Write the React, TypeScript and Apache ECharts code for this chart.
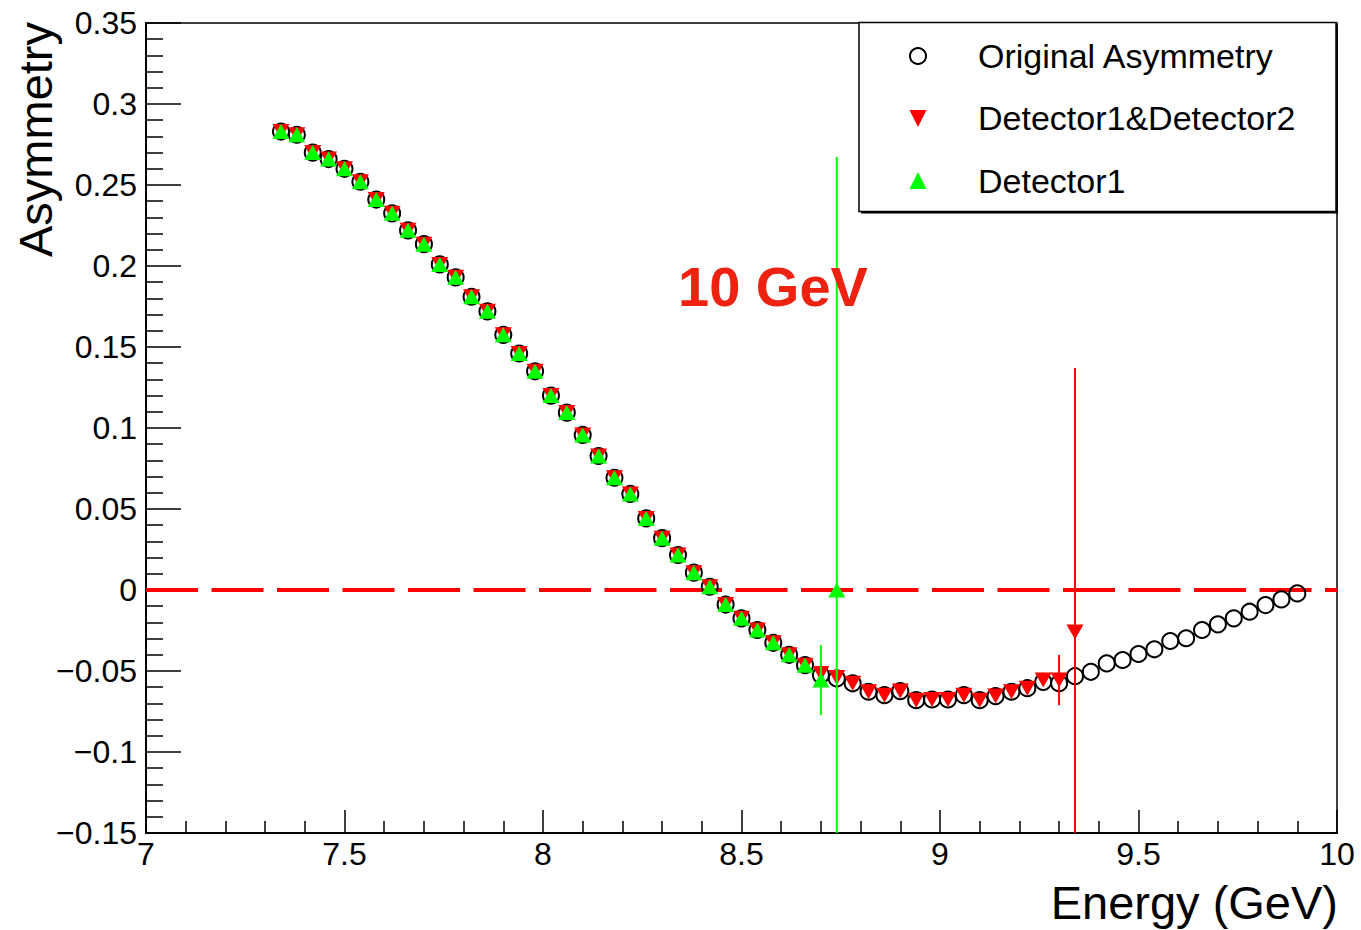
import React, { useEffect, useRef } from "react";
import * as echarts from "echarts";

// ---- data ----
const X_MIN = 7;
const X_MAX = 10;
const X_INTERVAL = 0.5;
const Y_MIN = -0.15;
const Y_MAX = 0.35;
const Y_INTERVAL = 0.05;

const energy = [
  7.34, 7.38, 7.42, 7.46, 7.5, 7.54, 7.58, 7.62, 7.66, 7.7, 7.74, 7.78, 7.82,
  7.86, 7.9, 7.94, 7.98, 8.02, 8.06, 8.1, 8.14, 8.18, 8.22, 8.26, 8.3, 8.34,
  8.38, 8.42, 8.46, 8.5, 8.54, 8.58, 8.62, 8.66, 8.7, 8.74, 8.78, 8.82, 8.86,
  8.9, 8.94, 8.98, 9.02, 9.06, 9.1, 9.14, 9.18, 9.22, 9.26, 9.3, 9.34, 9.38,
  9.42, 9.46, 9.5, 9.54, 9.58, 9.62, 9.66, 9.7, 9.74, 9.78, 9.82, 9.86, 9.9,
];

const originalAsym = [
  0.283, 0.281, 0.27, 0.266, 0.26, 0.252, 0.241, 0.2325, 0.222, 0.2135, 0.201,
  0.193, 0.181, 0.172, 0.1575, 0.146, 0.135, 0.12, 0.1095, 0.0957, 0.0827,
  0.0693, 0.0593, 0.0442, 0.032, 0.0216, 0.0107, 0.002, -0.009, -0.0175,
  -0.0247, -0.0326, -0.04, -0.0464, -0.0525, -0.0546, -0.0576, -0.0628,
  -0.0649, -0.0624, -0.068, -0.0676, -0.0676, -0.0649, -0.068, -0.0655,
  -0.0628, -0.0606, -0.0567, -0.0576, -0.0532, -0.0505, -0.0453, -0.0432,
  -0.0395, -0.0366, -0.0315, -0.0298, -0.0247, -0.0212, -0.0175, -0.0134,
  -0.0093, -0.0058, -0.0021,
];

// Detector1&Detector2 : 7.34 .. 9.34
const det12Asym = [
  0.283, 0.281, 0.27, 0.266, 0.26, 0.252, 0.241, 0.2325, 0.222, 0.2135, 0.201,
  0.193, 0.181, 0.172, 0.1575, 0.146, 0.135, 0.12, 0.1095, 0.0957, 0.0827,
  0.0693, 0.0593, 0.0442, 0.032, 0.0216, 0.0107, 0.002, -0.009, -0.0175,
  -0.0247, -0.0326, -0.04, -0.0464, -0.0515, -0.054, -0.0576, -0.0628,
  -0.0649, -0.0624, -0.068, -0.0676, -0.0676, -0.0649, -0.068, -0.0655,
  -0.0628, -0.0606, -0.0555, -0.0556, -0.026,
];

// Detector1 : 7.34 .. 8.74
const det1Asym = [
  0.283, 0.281, 0.27, 0.266, 0.26, 0.252, 0.241, 0.2325, 0.222, 0.2135, 0.201,
  0.193, 0.181, 0.172, 0.1575, 0.146, 0.135, 0.12, 0.1095, 0.0957, 0.0827,
  0.0693, 0.0593, 0.0442, 0.032, 0.0216, 0.0107, 0.002, -0.009, -0.0175,
  -0.0247, -0.0326, -0.04, -0.0464, -0.0556, 0.0,
];

// visible error bars (others are hidden under the markers)
const det12ErrEnergy = [9.3, 9.34];
const det12ErrSize = [0.0155, 0.163];
const det1ErrEnergy = [8.7, 8.74];
const det1ErrSize = [0.0216, 0.2673];

const zeroLine = [
  [X_MIN, 0],
  [X_MAX, 0],
];

const legendLabels = ["Original Asymmetry", "Detector1&Detector2", "Detector1"];
const xAxisTitle = "Energy (GeV)";
const yAxisTitle = "Asymmetry";
const annotation = "10 GeV";

const FONT = "'Liberation Sans', Arial, Helvetica, sans-serif";
const RED = "#ff0000";
const GREEN = "#00ff00";

function pairs(xs: number[], ys: number[]) {
  return ys.map((y, i) => [xs[i], y]);
}

function errData(ex: number[], es: number[], ys: number[]) {
  return ex.map((x, k) => {
    const i = energy.indexOf(x);
    return [x, ys[i], es[k]];
  });
}

function errorBarSeries(data: number[][], color: string, z: number) {
  return {
    type: "custom",
    z,
    silent: true,
    data,
    renderItem: (params: any, api: any) => {
      const x = api.value(0);
      const y = api.value(1);
      const e = api.value(2);
      const hi = Math.min(y + e, Y_MAX);
      const lo = Math.max(y - e, Y_MIN);
      const p1 = api.coord([x, hi]);
      const p2 = api.coord([x, lo]);
      return {
        type: "line",
        shape: { x1: p1[0], y1: p1[1], x2: p2[0], y2: p2[1] },
        style: { stroke: color, lineWidth: 2 },
      };
    },
  };
}

function fmtY(v: number) {
  const r = Math.round(v * 100) / 100;
  if (r < 0) return "\u2212" + String(-r);
  return String(r);
}

export default function App() {
  const ref = useRef<HTMLDivElement>(null);

  useEffect(() => {
    if (!ref.current) return;
    const chart = echarts.init(ref.current, undefined, { renderer: "svg" });

    const gridLeft = 146;
    const gridTop = 23;
    const gridW = 1191;
    const gridH = 810;

    const legX = 859;
    const legY = 22.5;
    const legW = 477;
    const legH = 189;
    const rowY = [56, 118, 181];
    const iconX = 918;
    const textX = 978;

    chart.setOption({
      animation: false,
      backgroundColor: "#ffffff",
      grid: {
        left: gridLeft,
        top: gridTop,
        width: gridW,
        height: gridH,
        show: true,
        borderColor: "#000",
        borderWidth: 1.5,
        backgroundColor: "transparent",
      },
      xAxis: {
        type: "value",
        min: X_MIN,
        max: X_MAX,
        interval: X_INTERVAL,
        axisLine: { show: true, onZero: false, lineStyle: { color: "#000", width: 2 } },
        axisTick: { show: true, inside: true, length: 23, lineStyle: { color: "#000", width: 1.5 } },
        minorTick: { show: true, splitNumber: 5, length: 12, lineStyle: { color: "#000", width: 1.5 } },
        splitLine: { show: false },
        minorSplitLine: { show: false },
        axisLabel: {
          color: "#000",
          fontSize: 32,
          fontFamily: FONT,
          margin: 5,
          showMinLabel: true,
          showMaxLabel: true,
          formatter: (v: number) => String(Math.round(v * 10) / 10),
        },
      },
      yAxis: {
        type: "value",
        min: Y_MIN,
        max: Y_MAX,
        interval: Y_INTERVAL,
        axisLine: { show: true, onZero: false, lineStyle: { color: "#000", width: 2 } },
        axisTick: { show: true, inside: true, length: 35, lineStyle: { color: "#000", width: 1.5 } },
        minorTick: { show: true, splitNumber: 5, length: 17, lineStyle: { color: "#000", width: 1.5 } },
        splitLine: { show: false },
        minorSplitLine: { show: false },
        axisLabel: {
          color: "#000",
          fontSize: 32,
          fontFamily: FONT,
          margin: 9,
          showMinLabel: true,
          showMaxLabel: true,
          formatter: fmtY,
        },
      },
      series: [
        {
          name: "zero",
          type: "line",
          z: 1,
          silent: true,
          symbol: "none",
          data: zeroLine,
          lineStyle: { color: RED, width: 4, type: [52, 13.5] },
        },
        {
          name: legendLabels[0],
          type: "scatter",
          z: 2,
          symbol: "circle",
          symbolSize: 16,
          data: pairs(energy, originalAsym),
          itemStyle: { color: "rgba(0,0,0,0)", borderColor: "#000", borderWidth: 2, opacity: 1 },
        },
        errorBarSeries(errData(det12ErrEnergy, det12ErrSize, det12Asym), RED, 3),
        {
          name: legendLabels[1],
          type: "scatter",
          z: 4,
          symbol: "triangle",
          symbolRotate: 180,
          symbolSize: [17, 15],
          data: pairs(energy, det12Asym),
          itemStyle: { color: RED, opacity: 1 },
        },
        errorBarSeries(errData(det1ErrEnergy, det1ErrSize, det1Asym), GREEN, 5),
        {
          name: legendLabels[2],
          type: "scatter",
          z: 6,
          symbol: "triangle",
          symbolSize: [17, 15],
          data: pairs(energy, det1Asym),
          itemStyle: { color: GREEN, opacity: 1 },
        },
      ],
      graphic: [
        // legend box + shadow
        {
          type: "polyline",
          z: 100,
          shape: { points: [[legX + legW + 1.2, legY + 2], [legX + legW + 1.2, legY + legH + 1.2], [legX + 2, legY + legH + 1.2]] },
          style: { stroke: "#000", lineWidth: 1.5, fill: "none" },
        },
        {
          type: "rect",
          z: 101,
          shape: { x: legX, y: legY, width: legW, height: legH },
          style: { fill: "#fff", stroke: "#000", lineWidth: 1.5 },
        },
        {
          type: "circle",
          z: 102,
          shape: { cx: iconX, cy: rowY[0], r: 8 },
          style: { fill: "none", stroke: "#000", lineWidth: 2 },
        },
        {
          type: "polygon",
          z: 102,
          shape: { points: [[iconX - 8.5, rowY[1] - 8], [iconX + 8.5, rowY[1] - 8], [iconX, rowY[1] + 9]] },
          style: { fill: RED },
        },
        {
          type: "polygon",
          z: 102,
          shape: { points: [[iconX - 8.5, rowY[2] + 8], [iconX + 8.5, rowY[2] + 8], [iconX, rowY[2] - 9]] },
          style: { fill: GREEN },
        },
        ...legendLabels.map((t, i) => ({
          type: "text",
          z: 102,
          x: textX,
          y: rowY[i],
          style: {
            text: t,
            fill: "#000",
            fontSize: 34,
            fontFamily: FONT,
            textAlign: "left",
            textVerticalAlign: "middle",
          },
        })),
        // annotation
        {
          type: "text",
          z: 90,
          x: 678,
          y: 286,
          style: {
            text: annotation,
            fill: "#ee2211",
            fontSize: 56,
            fontWeight: "bold",
            fontFamily: FONT,
            textAlign: "left",
            textVerticalAlign: "middle",
          },
        },
        // axis titles
        {
          type: "text",
          z: 90,
          x: 1338,
          y: 902.5,
          style: {
            text: xAxisTitle,
            fill: "#000",
            fontSize: 47,
            fontFamily: FONT,
            textAlign: "right",
            textVerticalAlign: "middle",
          },
        },
        {
          type: "text",
          z: 90,
          x: 35,
          y: 22,
          rotation: Math.PI / 2,
          style: {
            text: yAxisTitle,
            fill: "#000",
            fontSize: 47,
            fontFamily: FONT,
            textAlign: "right",
            textVerticalAlign: "middle",
          },
        },
      ],
    });

    return () => chart.dispose();
  }, []);

  return (
    <div
      ref={ref}
      style={{ position: "absolute", left: 0, top: 0, width: 1361, height: 930, background: "#fff" }}
    />
  );
}
